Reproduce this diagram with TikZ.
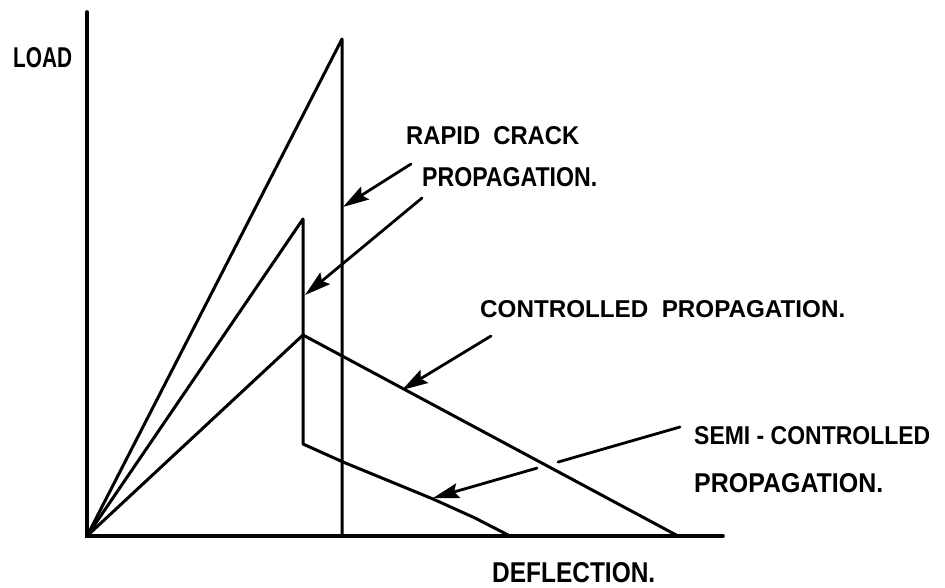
\documentclass[tikz,border=0pt]{standalone}
\usepackage{fontspec}
\setmainfont{Liberation Sans}
\usetikzlibrary{arrows.meta,calc}
% hand-lettered caption: text stretched to a given width and cap height
\newcommand\lettering[3]{\resizebox{#1}{#2}{\bfseries #3}}
\begin{document}
\begin{tikzpicture}[x=1pt,y=-1pt,
  curve/.style={line width=3pt, line join=round, line cap=round},
  axisline/.style={line width=3.6pt, line cap=round, line join=miter},
  leaderline/.style={line width=2.8pt, line cap=round},
  leader/.style={leaderline, -{Stealth[length=26pt,width=15pt,inset=4pt]}},
  lbl/.style={inner sep=0pt, anchor=west}]
\useasboundingbox (0,0) rectangle (945,588);

% axes
\coordinate (ytop) at (87,12);
\coordinate (O) at (87,536);
\coordinate (xend) at (723,536);
\draw[axisline] (ytop) -- (O) -- (xend);

% rapid crack propagation: load rises, then drops straight to zero
\coordinate (P1) at (342,39);
\coordinate (P1b) at (342,536);
\draw[curve] (O) -- (P1) -- (P1b);

% semi-controlled: partial drop, then gradual decline
\coordinate (P2) at (303,219);
\coordinate (P2b) at (303,444);
\coordinate (E2) at (510,536);
\draw[curve] (O) -- (P2) -- (P2b) -- (343,462) -- (433,499) -- (475,518) -- (E2);

% controlled propagation: gradual decline from the peak
\coordinate (P3) at (303,335);
\coordinate (E3) at (678,536);
\draw[curve] (O) -- (P3) -- (E3);

% labels
\node[lbl] (load) at (13,58) {\lettering{59pt}{20pt}{LOAD}};
\node[lbl] (rapid1) at (406,136) {\lettering{173pt}{18pt}{RAPID\ \ CRACK}};
\node[lbl] (rapid2) at (422,177) {\lettering{175pt}{19pt}{PROPAGATION.}};
\node[lbl] (ctrl) at (480,309) {\lettering{365pt}{17pt}{CONTROLLED\ \ PROPAGATION.}};
\node[lbl] (semi1) at (694,436) {\lettering{236pt}{18pt}{SEMI - CONTROLLED}};
\node[lbl] (semi2) at (694,483) {\lettering{189pt}{19pt}{PROPAGATION.}};
\node[lbl] (defl) at (492,573) {\lettering{163pt}{20pt}{DEFLECTION.}};

% leaders
\coordinate (a1s) at (411,164);
\coordinate (a1t) at (343,207);
\draw[leader] (a1s) -- (a1t);
\coordinate (a2s) at (422,198);
\coordinate (a2t) at (305,295);
\draw[leader] (a2s) -- (a2t);
\coordinate (a3s) at (491,336);
\coordinate (a3t) at (402,390);
\draw[leader] (a3s) -- (a3t);
% semi-controlled leader, broken where it crosses the controlled curve
\coordinate (a4s) at (680,427);
\coordinate (a4t) at (433,498);
\draw[leaderline] (a4s) -- ($(a4s)!0.494!(a4t)$);
\draw[leader] ($(a4s)!0.579!(a4t)$) -- (a4t);
\end{tikzpicture}
\end{document}
